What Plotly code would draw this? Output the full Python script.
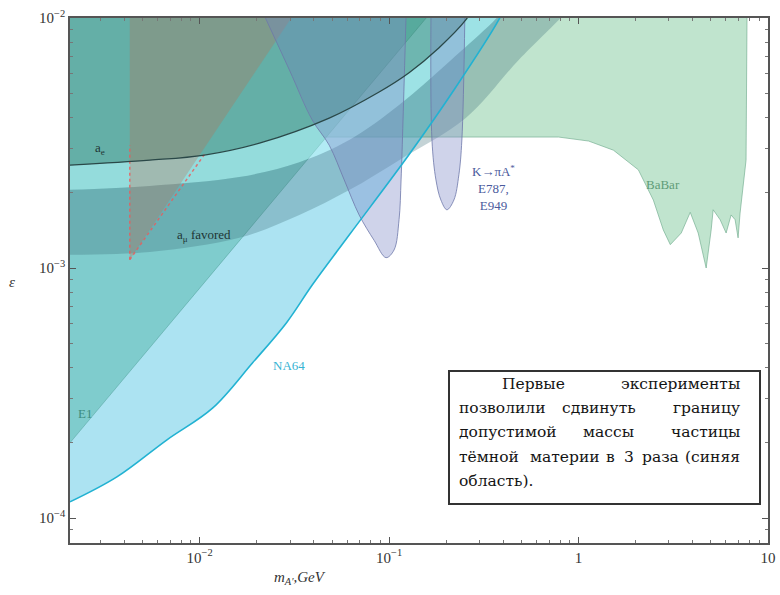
import numpy as np
import plotly.graph_objects as go

# ---------------- data (mass in GeV, epsilon) ----------------
na64_m = [0.00207, 0.00366, 0.00670, 0.0117, 0.0190, 0.0287, 0.0393, 0.0616, 0.127, 0.220, 0.379, 0.395]
na64_eps = [0.000116, 0.000146, 0.000205, 0.000275, 0.000417, 0.000603, 0.000855, 0.001355, 0.00283, 0.00515, 0.00982, 0.0105]

dump_m = [0.0019, 0.0109, 0.157]
dump_eps = [0.000185, 0.000895, 0.0100]

ae_m = [0.0019, 0.00546, 0.0106, 0.0207, 0.0483, 0.0886, 0.127, 0.183, 0.254, 0.262]
ae_eps = [0.00257, 0.00270, 0.00283, 0.00316, 0.00398, 0.00506, 0.00603, 0.00759, 0.00982, 0.0102]

mu_hi_m = [0.0019, 0.00546, 0.0162, 0.0336, 0.0616, 0.113, 0.207, 0.370, 0.40]
mu_hi_eps = [0.00205, 0.00213, 0.00231, 0.00265, 0.00325, 0.00449, 0.00667, 0.0100, 0.0108]
mu_lo_m = [0.0019, 0.00546, 0.0162, 0.0336, 0.0616, 0.113, 0.254, 0.483, 0.804, 0.85]
mu_lo_eps = [0.00113, 0.00116, 0.00132, 0.00163, 0.00205, 0.00270, 0.00398, 0.00679, 0.0100, 0.0105]

red_m = [0.00428, 0.00428, 0.031]
red_eps = [0.00108, 0.0102, 0.0102]
red_vert_m = [0.00428, 0.00428]
red_vert_eps = [0.00108, 0.0031]
red_diag_m = [0.00428, 0.0108]
red_diag_eps = [0.00108, 0.0029]

k1_m = [0.0220, 0.0298, 0.0393, 0.0483, 0.0580, 0.0695, 0.0834, 0.0964, 0.1062, 0.1129, 0.1157, 0.1185, 0.1229]
k1_eps = [0.0102, 0.00619, 0.00391, 0.00310, 0.00225, 0.00163, 0.00129, 0.00110, 0.00118, 0.00156, 0.00225, 0.00391, 0.0102]
k2_m = [0.1664, 0.1684, 0.1768, 0.1878, 0.2020, 0.2198, 0.2336, 0.2422, 0.2512]
k2_eps = [0.0102, 0.00325, 0.00225, 0.00187, 0.00171, 0.00187, 0.00236, 0.00325, 0.0102]

babar_m = [0.022, 0.0298, 0.0393, 0.045, 0.785, 1.13, 1.528, 2.069, 2.482, 2.802, 3.050, 3.484, 3.886, 4.281,
           4.717, 5.012, 5.135, 5.589, 6.012, 6.388, 6.704, 6.952, 7.123, 7.659, 7.75, 7.75]
babar_eps = [0.0102, 0.00619, 0.00391, 0.00334, 0.00334, 0.00322, 0.00296, 0.00247, 0.00187, 0.00142, 0.00124,
             0.00138, 0.00167, 0.00138, 0.00100, 0.00142, 0.00171, 0.00156, 0.00138, 0.00163, 0.00156,
             0.00132, 0.00166, 0.00270, 0.00700, 0.0102]

x_tickvals = [0.01, 0.1, 1, 10]
x_ticktext = ["10<sup>−2</sup>", "10<sup>−1</sup>", "1", "10"]
y_tickvals = [1e-4, 1e-3, 1e-2]
y_ticktext = ["10<sup>−4</sup>", "10<sup>−3</sup>", "10<sup>−2</sup>"]
x_minor = [k * 10.0 ** d for d in range(-3, 1) for k in range(2, 10)]
y_minor = [k * 10.0 ** d for d in range(-5, -2) for k in range(2, 10)]

box_lines = [
    ["Первые", "эксперименты"],
    ["позволили", "сдвинуть", "границу"],
    ["допустимой", "массы", "частицы"],
    ["тёмной", "материи", "в", "3", "раза", "(синяя"],
    ["область)."],
]

SERIF = "Liberation Serif"
BOXFONT = "DejaVu Serif"
TOP = 0.0102

fig = go.Figure()

def poly(xs, ys, fill, line_color="rgba(0,0,0,0)", width=0, shape="linear"):
    fig.add_trace(go.Scatter(x=xs, y=ys, mode="lines", fill="toself", fillcolor=fill,
                             line=dict(color=line_color, width=width, shape=shape),
                             hoverinfo="skip", showlegend=False))

def line(xs, ys, color, width, dash="solid", shape="linear"):
    fig.add_trace(go.Scatter(x=xs, y=ys, mode="lines",
                             line=dict(color=color, width=width, dash=dash, shape=shape),
                             hoverinfo="skip", showlegend=False))

# BaBar
poly(babar_m, babar_eps, "rgba(140,205,165,0.55)")
line(babar_m[3:], babar_eps[3:], "rgba(110,170,140,0.8)", 0.8)
# NA64 region
poly([0.0015, 0.0015] + na64_m + [0.5], [TOP * 2, 0.000101] + na64_eps + [TOP * 2],
     "rgba(90,200,230,0.5)", shape="spline")
# beam dump region
poly([0.0015] + dump_m + [0.2, 0.0015], [0.00015] + dump_eps + [TOP * 2, TOP * 2],
     "rgba(60,170,150,0.4)")
line(dump_m, dump_eps, "rgba(60,140,130,0.45)", 0.8)
# light strip between a_e line and a_mu band
poly(mu_hi_m + ae_m[::-1], mu_hi_eps + ae_eps[::-1], "rgba(190,250,250,0.35)", shape="spline")
# a_mu favoured band
poly(mu_hi_m + mu_lo_m[::-1], mu_hi_eps + mu_lo_eps[::-1], "rgba(60,110,120,0.3)", shape="spline")
# a_e excluded region
poly(ae_m + [0.3, 0.0015], ae_eps + [TOP * 2, TOP * 2], "rgba(40,110,80,0.3)", shape="spline")
# red region
poly(red_m, red_eps, "rgba(190,110,80,0.3)")
line(red_vert_m, red_vert_eps, "rgba(235,90,90,0.8)", 1.5, "dot")
line(red_diag_m, red_diag_eps, "rgba(235,90,90,0.8)", 1.5, "dot")
# K -> pi A' (E787, E949)
poly(k1_m, k1_eps, "rgba(130,140,200,0.38)", "rgba(110,120,170,0.8)", 1, shape="spline")
poly(k2_m, k2_eps, "rgba(130,140,200,0.38)", "rgba(110,120,170,0.8)", 1, shape="spline")
# boundary lines
line(na64_m, na64_eps, "#22b2d2", 1.6, shape="spline")
line(ae_m, ae_eps, "#2a4848", 1.3, shape="spline")

L = np.log10
def lab(text, m, e, color, size=13, **kw):
    fig.add_annotation(x=L(m), y=L(e), xref="x", yref="y", text=text, showarrow=False,
                       font=dict(family=SERIF, size=size, color=color), **kw)

lab("a<sub>e</sub>", 0.00298, 0.00302, "#1e3535")
lab("a<sub>μ</sub> favored", 0.0106, 0.00135, "#1e3535")
lab("E1", 0.00248, 0.000263, "#3d8c80")
lab("NA64", 0.0298, 0.000406, "#35b3d3")
lab("K→πA<sup>*</sup><br>E787,<br>E949", 0.357, 0.00209, "#4a5a9c", align="center")
lab("BaBar", 2.8, 0.00215, "#5f9c78")

# ---- layout geometry (pixels) ----
W, H = 780, 595
ml, mr, mt, mb = 70, 12, 18, 52
pw, ph = W - ml - mr, H - mt - mb
def px(xp): return (xp - ml) / pw
def py(yp): return (H - mb - yp) / ph

# text box
fig.add_shape(type="rect", xref="paper", yref="paper", x0=px(449), x1=px(760), y0=py(504), y1=py(371),
              line=dict(color="#333333", width=2), fillcolor="white", layer="above")
line_y = [384, 408, 432, 457, 481]
word_pos = [
    [(500, "left"), (742, "right")],
    [(457, "left"), (599, "center"), (742, "right")],
    [(457, "left"), (608, "center"), (742, "right")],
    [(457, "left"), (528, "left"), (604, "left"), (622, "left"), (640, "left"), (742, "right")],
    [(457, "left")],
]
for words, pos, yy in zip(box_lines, word_pos, line_y):
    for w, (xx, anc) in zip(words, pos):
        fig.add_annotation(xref="paper", yref="paper", x=px(xx), y=py(yy), text=w, showarrow=False,
                           xanchor=anc, yanchor="middle",
                           font=dict(family=BOXFONT, size=15.5, color="#141414"))

# axis titles
fig.add_annotation(xref="paper", yref="paper", x=px(12), y=py(282), text="<i>ε</i>", showarrow=False,
                   xanchor="center", yanchor="middle",
                   font=dict(family=SERIF, size=15, color="#333"))
fig.add_annotation(xref="paper", yref="paper", x=px(300), y=py(578),
                   text="<i>m</i><sub><i>A'</i></sub><i>,GeV</i>", showarrow=False,
                   xanchor="center", yanchor="middle",
                   font=dict(family=SERIF, size=15, color="#333"))

axis_common = dict(showgrid=False, zeroline=False, showline=True, linecolor="#555", linewidth=1.5,
                   mirror="allticks", ticks="inside", ticklen=6, tickcolor="#555", automargin=False,
                   tickfont=dict(family=SERIF, size=15, color="#333"))

fig.update_xaxes(type="log", range=[np.log10(0.00207), 1.0], tickvals=x_tickvals, ticktext=x_ticktext,
                 minor=dict(tickmode="array", tickvals=x_minor, ticks="inside", ticklen=3,
                            tickcolor="#777", showgrid=False),
                 **axis_common)
fig.update_yaxes(type="log", range=[-4.1, -2.0], tickvals=y_tickvals, ticktext=y_ticktext,
                 minor=dict(tickmode="array", tickvals=y_minor, ticks="inside", ticklen=3,
                            tickcolor="#777", showgrid=False),
                 **axis_common)

fig.update_layout(width=W, height=H, margin=dict(l=ml, r=mr, t=mt, b=mb, autoexpand=False),
                  plot_bgcolor="white", paper_bgcolor="white", showlegend=False)

fig.write_html("out.html", config={"displayModeBar": False},
               post_script="document.body.style.margin='0px';")
